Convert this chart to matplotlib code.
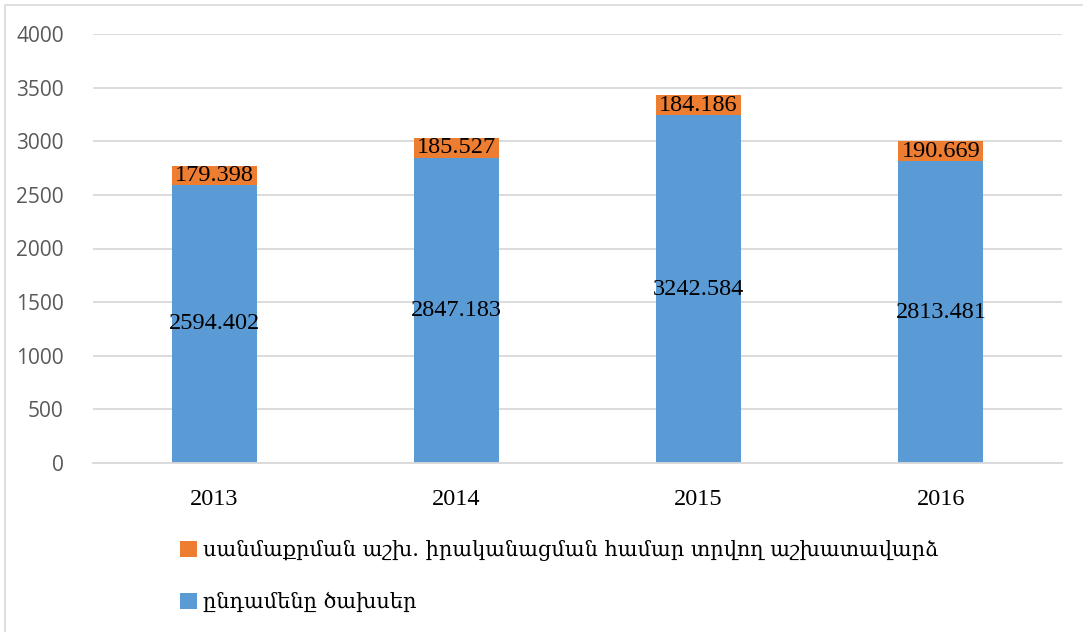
import matplotlib.pyplot as plt
from matplotlib.patches import Rectangle

years = ['2013', '2014', '2015', '2016']
total_expenses = [2594.402, 2847.183, 3242.584, 2813.481]
salary_part = [179.398, 185.527, 184.186, 190.669]
label_salary = 'սանմաքրման աշխ. իրականացման համար տրվող աշխատավարձ'
label_total = 'ընդամենը ծախսեր'

blue = '#5B9BD5'
orange = '#ED7D31'
grid_c = '#D9D9D9'
serif = ['Liberation Serif', 'DejaVu Serif']


def draw_chart():
    fig = plt.figure(figsize=(10.83, 6.32), dpi=100)
    W, H = 1083, 632
    # chart border
    fig.patches.append(Rectangle((5 / W, -0.1), 1.2, (632 - 5) / H + 0.1,
                                 transform=fig.transFigure, fill=False,
                                 edgecolor=grid_c, linewidth=1.2))

    ax = fig.add_axes([93 / W, (H - 463) / H, (1062 - 93) / W, (463 - 34) / H])
    x = range(len(years))
    b1 = ax.bar(x, total_expenses, width=0.35, color=blue, label=label_total, zorder=2)
    b2 = ax.bar(x, salary_part, width=0.35, bottom=total_expenses, color=orange,
                label=label_salary, zorder=2)

    for i in x:
        ax.text(i, total_expenses[i] / 2, f'{total_expenses[i]:.3f}', ha='center',
                va='center', fontsize=17.5, family=serif, color='black', zorder=3)
        ax.text(i, total_expenses[i] + salary_part[i] / 2, f'{salary_part[i]:.3f}',
                ha='center', va='center', fontsize=17.5, family=serif, color='black', zorder=3)

    ax.set_xlim(-0.5, 3.5)
    ax.set_ylim(0, 4000)
    ax.set_yticks(range(0, 4001, 500))
    ax.yaxis.grid(True, color=grid_c, linewidth=1.3, zorder=0)
    ax.set_axisbelow(True)
    for s in ['top', 'right', 'left']:
        ax.spines[s].set_visible(False)
    ax.spines['bottom'].set_color(grid_c)
    ax.spines['bottom'].set_linewidth(1.3)
    ax.tick_params(axis='both', length=0)
    ax.tick_params(axis='y', pad=21, labelcolor='#595959', labelsize=15)
    ax.tick_params(axis='x', pad=19)
    for lab in ax.get_yticklabels():
        lab.set_family('Open Sans')
    ax.set_xticks(list(x))
    ax.set_xticklabels(years, fontsize=17.5, family=serif, color='black')

    fig.legend([b2, b1], [label_salary, label_total], loc='upper left',
               bbox_to_anchor=(170 / W, (H - 530) / H), frameon=False,
               prop={'family': ['DejaVu Serif'], 'size': 15},
               handlelength=0.8, handleheight=0.8, handletextpad=0.3,
               labelspacing=1.45, borderpad=0)

    plt.savefig('out.png', dpi=100)


if __name__ == '__main__':
    draw_chart()
